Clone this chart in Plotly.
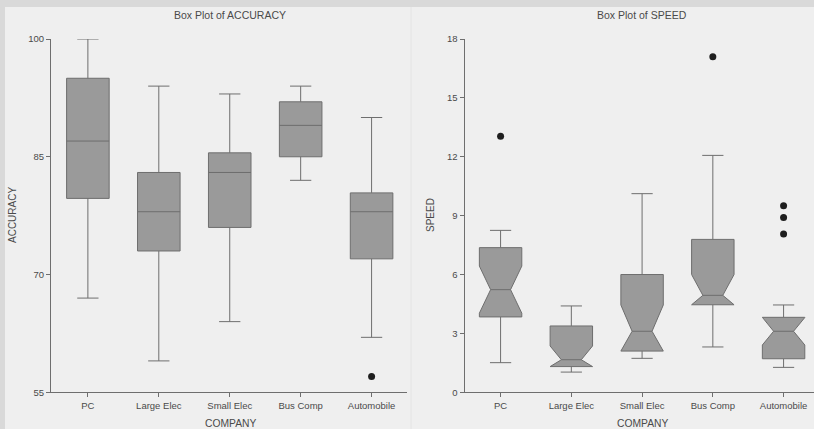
import plotly.graph_objects as go

W, H = 814, 429

# ---- data -------------------------------------------------------------
companies = ["PC", "Large Elec", "Small Elec", "Bus Comp", "Automobile"]

# ACCURACY box statistics
acc_lower = [67, 59, 64, 82, 62]
acc_q1 = [79.7, 73, 76, 85, 72]
acc_median = [87, 78, 83, 89, 78]
acc_q3 = [95, 83, 85.5, 92, 80.4]
acc_upper = [100, 94, 93, 94, 90]
acc_outlier_company = ["Automobile"]
acc_outlier_value = [57]

# SPEED box statistics (notched)
spd_lower = [1.51, 1.03, 1.73, 2.31, 1.27]
spd_q1 = [3.84, 1.31, 2.10, 4.46, 1.71]
spd_median = [5.23, 1.66, 3.11, 4.94, 3.11]
spd_q3 = [7.37, 3.38, 6.00, 7.79, 3.82]
spd_upper = [8.25, 4.40, 10.12, 12.07, 4.45]
spd_notch = [1.20, 0.70, 1.34, 1.06, 0.70]
spd_outlier_company = ["PC", "Bus Comp", "Automobile", "Automobile", "Automobile"]
spd_outlier_value = [13.04, 17.1, 9.51, 8.90, 8.07]

acc_ticks = [55, 70, 85, 100]
spd_ticks = [0, 3, 6, 9, 12, 15, 18]

# ---- styling ----------------------------------------------------------
FONT = "Liberation Sans, Arial, sans-serif"
TXT = "#4a4a4a"
LINE = "#6e6e6e"
FILL = "#9a9a9a"
BOX_W = 0.6
CAP_W = 0.3
NOTCH_FRAC = 0.47

pos = {c: i for i, c in enumerate(companies)}

fig = go.Figure()

# left panel: plain boxes
fig.add_trace(go.Box(
    x=list(range(len(companies))),
    q1=acc_q1, median=acc_median, q3=acc_q3,
    lowerfence=acc_lower, upperfence=acc_upper,
    width=BOX_W, whiskerwidth=0.5, boxpoints=False,
    fillcolor=FILL, line=dict(color=LINE, width=1),
    xaxis="x", yaxis="y", hoverinfo="skip", showlegend=False,
))
fig.add_trace(go.Scatter(
    x=[pos[c] for c in acc_outlier_company], y=acc_outlier_value,
    mode="markers", marker=dict(color="#1e1e1e", size=7),
    xaxis="x", yaxis="y", showlegend=False, hoverinfo="skip",
))

# right panel: notched boxes, notches clipped to the box edges
bx, by, mx, my, wx, wy = [], [], [], [], [], []
half, nh, ch = BOX_W / 2, BOX_W / 2 * NOTCH_FRAC, CAP_W / 2
for i in range(len(companies)):
    q1, md, q3 = spd_q1[i], spd_median[i], spd_q3[i]
    lo = max(q1, md - spd_notch[i])
    hi = min(q3, md + spd_notch[i])
    bx += [i - half, i - half, i - nh, i - half, i - half,
           i + half, i + half, i + nh, i + half, i + half, i - half, None]
    by += [q1, lo, md, hi, q3, q3, hi, md, lo, q1, q1, None]
    mx += [i - nh, i + nh, None]
    my += [md, md, None]
    wx += [i, i, None, i, i, None,
           i - ch, i + ch, None, i - ch, i + ch, None]
    wy += [q3, spd_upper[i], None, q1, spd_lower[i], None,
           spd_upper[i], spd_upper[i], None, spd_lower[i], spd_lower[i], None]

fig.add_trace(go.Scatter(x=wx, y=wy, mode="lines", line=dict(color=LINE, width=1),
                         xaxis="x2", yaxis="y2", showlegend=False, hoverinfo="skip"))
fig.add_trace(go.Scatter(x=bx, y=by, mode="lines", fill="toself", fillcolor=FILL,
                         line=dict(color=LINE, width=1),
                         xaxis="x2", yaxis="y2", showlegend=False, hoverinfo="skip"))
fig.add_trace(go.Scatter(x=mx, y=my, mode="lines", line=dict(color=LINE, width=1),
                         xaxis="x2", yaxis="y2", showlegend=False, hoverinfo="skip"))
fig.add_trace(go.Scatter(
    x=[pos[c] for c in spd_outlier_company], y=spd_outlier_value,
    mode="markers", marker=dict(color="#1e1e1e", size=7),
    xaxis="x2", yaxis="y2", showlegend=False, hoverinfo="skip",
))

# ---- axes -------------------------------------------------------------
def px_x(p):
    return p / W


def px_y(p):
    return 1 - p / H


axis_common = dict(
    showgrid=False, zeroline=False, showline=True, linecolor=LINE, linewidth=1,
    ticks="outside", ticklen=4, tickcolor=LINE, tickwidth=1, automargin=False,
    tickfont=dict(family=FONT, size=9.5, color=TXT),
)

ydom = [px_y(392.3), px_y(39)]
fig.update_layout(
    width=W, height=H, autosize=False,
    margin=dict(l=0, r=0, t=0, b=0, pad=0, autoexpand=False),
    paper_bgcolor="#d9d9d9",
    plot_bgcolor="rgba(0,0,0,0)",
    xaxis=dict(domain=[px_x(51), px_x(406.7)], range=[-0.52, 4.495],
               tickmode="array", tickvals=list(range(len(companies))),
               ticktext=companies, anchor="y", **axis_common),
    yaxis=dict(domain=ydom, range=[55, 100], tickmode="array",
               tickvals=acc_ticks, anchor="x", **axis_common),
    xaxis2=dict(domain=[px_x(464.5), 1.0], range=[-0.51, 4.43],
                tickmode="array", tickvals=list(range(len(companies))),
                ticktext=companies, anchor="y2", **axis_common),
    yaxis2=dict(domain=ydom, range=[0, 18], tickmode="array",
                tickvals=spd_ticks, anchor="x2", **axis_common),
    shapes=[
        dict(type="rect", xref="paper", yref="paper",
             x0=px_x(5), x1=1.02, y0=-0.02, y1=px_y(7),
             fillcolor="#efefef", line=dict(width=0), layer="below"),
        dict(type="line", xref="paper", yref="paper",
             x0=px_x(411), x1=px_x(411), y0=-0.02, y1=px_y(7),
             line=dict(color="#e4e4e4", width=1), layer="below"),
    ],
    showlegend=False,
)

# ---- titles -----------------------------------------------------------
def label(text, x, y, size, angle=0):
    fig.add_annotation(text=text, x=px_x(x), y=px_y(y), xref="paper", yref="paper",
                       showarrow=False, textangle=angle, xanchor="center", yanchor="middle",
                       font=dict(family=FONT, size=size, color=TXT))


label("Box Plot of ACCURACY", 230, 15, 10.5)
label("Box Plot of SPEED", 642, 15, 10.5)
label("COMPANY", 230, 423, 10.3)
label("COMPANY", 642, 423, 10.3)
label("ACCURACY", 12, 215, 10, -90)
label("SPEED", 430, 215, 10, -90)

fig.write_html("out.html")
